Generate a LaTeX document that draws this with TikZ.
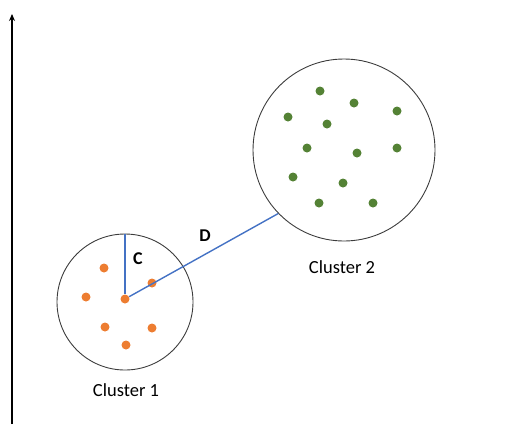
\documentclass[tikz,border=0pt]{standalone}
\usepackage{fontspec}
\setmainfont{Carlito}
\usetikzlibrary{arrows.meta}
\definecolor{dotorange}{RGB}{237,125,49}
\definecolor{dotgreen}{RGB}{84,130,53}
\definecolor{linkblue}{RGB}{68,114,196}
\definecolor{rimgray}{RGB}{60,60,60}
\begin{document}
\begin{tikzpicture}[x=1pt,y=-1pt,
  cluster/.style={circle,draw=rimgray,line width=0.9pt,inner sep=0pt},
  odot/.style={circle,fill=dotorange,inner sep=0pt,minimum size=9pt},
  gdot/.style={circle,fill=dotgreen,inner sep=0pt,minimum size=9pt},
  link/.style={draw=linkblue,line width=1.4pt},
  lbl/.style={font=\fontsize{18.5}{21}\selectfont,inner sep=0pt},
  blbl/.style={font=\fontsize{18}{21}\selectfont\bfseries,inner sep=0pt}]
\useasboundingbox (0,0) rectangle (526,426);
% axis
\coordinate (axb) at (12,424);
\coordinate (axt) at (12,14);
\draw[line width=1.3pt,-{Stealth[length=7pt,width=6pt]}] (axb) -- (axt);
% clusters
\node[cluster,minimum size=136pt] (cl1) at (125,302) {};
\node[cluster,minimum size=182pt] (cl2) at (344,150) {};
% cluster 1 dots
\node[odot] (c1) at (125,299) {};
\node[odot] (o1) at (104,268) {};
\node[odot] (o2) at (152,283) {};
\node[odot] (o3) at (86,297) {};
\node[odot] (o4) at (105,327) {};
\node[odot] (o5) at (152,328) {};
\node[odot] (o6) at (126,345) {};
% cluster 2 dots
\node[gdot] (g1) at (320,91) {};
\node[gdot] (g2) at (354,103) {};
\node[gdot] (g3) at (397,111) {};
\node[gdot] (g4) at (288,117) {};
\node[gdot] (g5) at (327,124) {};
\node[gdot] (g6) at (307,148) {};
\node[gdot] (g7) at (357,153) {};
\node[gdot] (g8) at (397,148) {};
\node[gdot] (g9) at (293,177) {};
\node[gdot] (g10) at (343,183) {};
\node[gdot] (g11) at (319,203) {};
\node[gdot] (g12) at (373,203) {};
% connectors
\draw[link] (c1.center |- cl1.north) -- (c1);
\draw[link] (c1) -- (cl2.224);
% labels
\node[blbl] (lc) at (138,259) {C};
\node[blbl] (ld) at (205,236) {D};
\node[lbl] (n1) at (126,390) {Cluster 1};
\node[lbl] (n2) at (342,267) {Cluster 2};
\end{tikzpicture}
\end{document}
